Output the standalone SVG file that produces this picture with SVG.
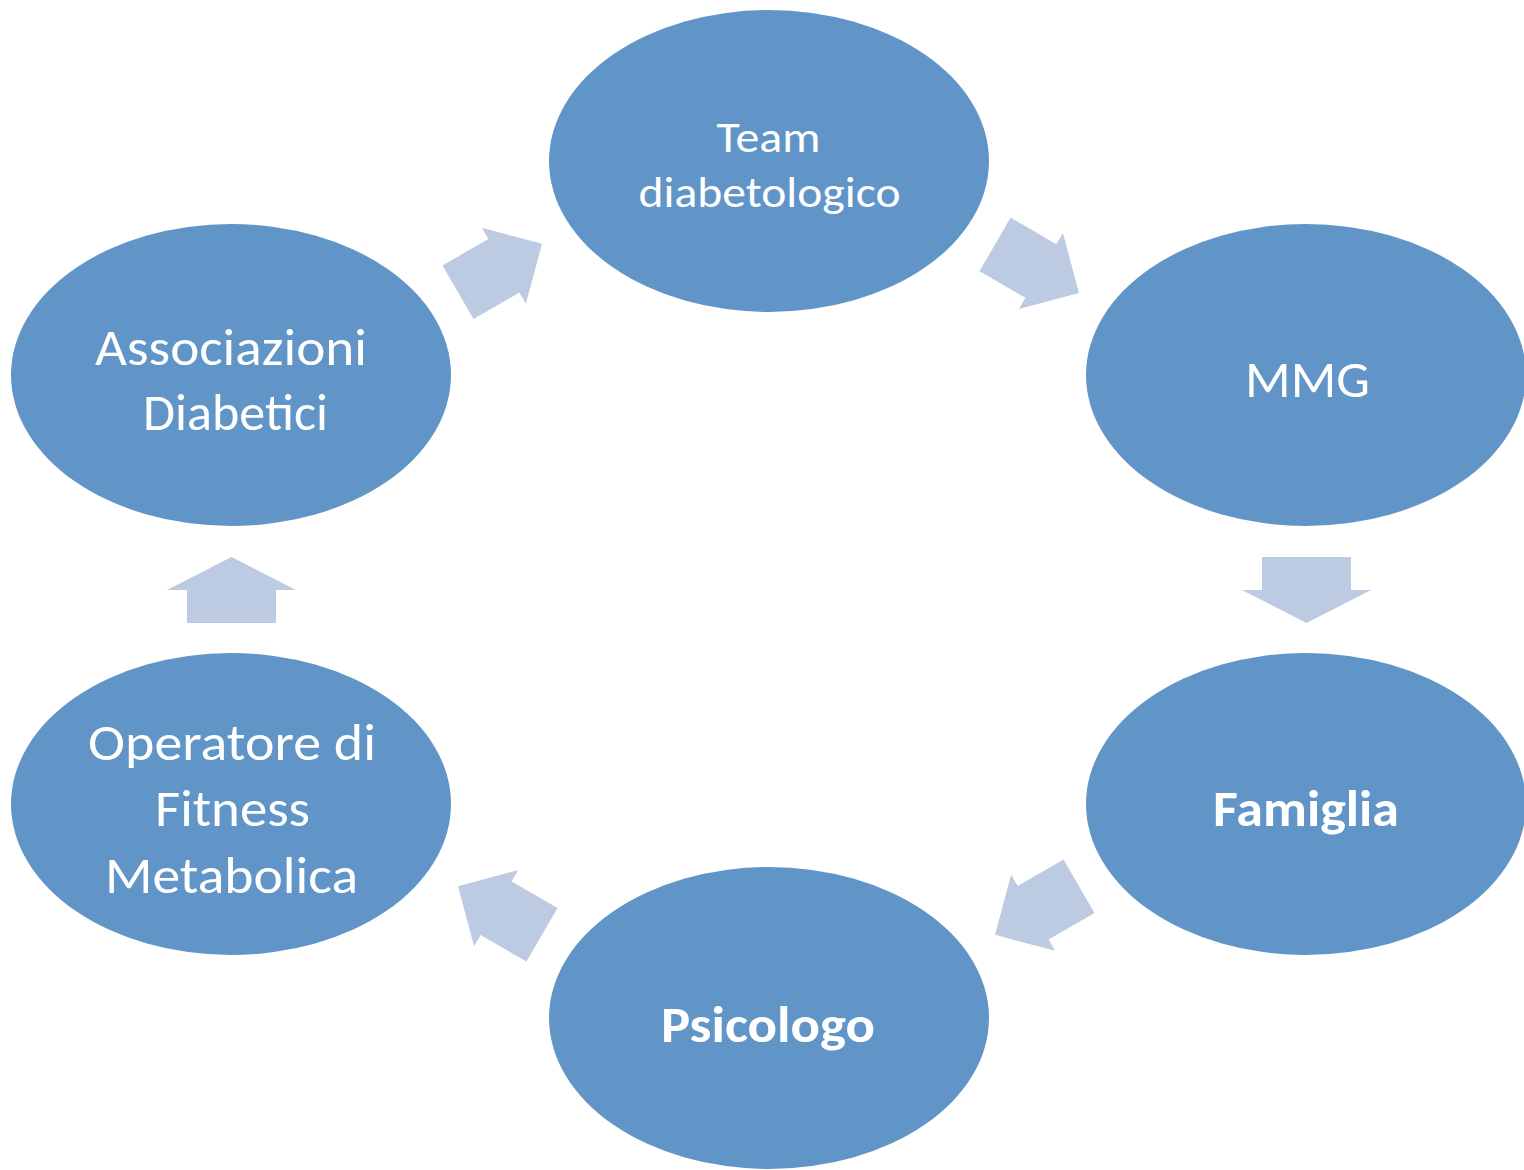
<svg xmlns="http://www.w3.org/2000/svg" width="1524" height="1170" viewBox="0 0 1524 1170">
<style>
.node{fill:#6195C8;}
.arr{fill:#BCCBE1;}
text{fill:#FFFFFF;font-family:"Carlito","Lato","Open Sans",sans-serif;text-anchor:middle;}
.b{font-weight:bold;}
</style>
<defs>
<polygon id="diag" points="-48.5,-31 4.5,-31 4.5,-44 48.5,0 4.5,44 4.5,31 -48.5,31"/>
<polygon id="vert" points="-33,-44.5 0,-44.5 0,-64.5 33,0 0,64.5 0,44.5 -33,44.5"/>
</defs>
<rect width="1524" height="1170" fill="#FFFFFF"/>
<g id="connectors">
<use href="#diag" class="arr" transform="translate(500,268) rotate(-30)"/>
<use href="#diag" class="arr" transform="translate(1037,268.75) rotate(30)"/>
<use href="#vert" class="arr" transform="translate(1306.5,590) rotate(90)"/>
<use href="#diag" class="arr" transform="translate(1037,910.5) rotate(150)"/>
<use href="#diag" class="arr" transform="translate(500,910.5) rotate(210)"/>
<use href="#vert" class="arr" transform="translate(231.5,590) rotate(-90)"/>
</g>
<g id="team">
<ellipse class="node" cx="769" cy="161" rx="220" ry="151"/>
<text x="768.5" y="152" font-size="44" textLength="104" lengthAdjust="spacingAndGlyphs">Team</text>
<text x="769.5" y="207" font-size="44" textLength="262" lengthAdjust="spacingAndGlyphs">diabetologico</text>
</g>
<g id="mmg">
<ellipse class="node" cx="1306" cy="375" rx="220" ry="151"/>
<text x="1307.5" y="397" font-size="52" textLength="125" lengthAdjust="spacingAndGlyphs">MMG</text>
</g>
<g id="famiglia">
<ellipse class="node" cx="1306" cy="804" rx="220" ry="151"/>
<text class="b" x="1306" y="826" font-size="50" textLength="186" lengthAdjust="spacingAndGlyphs">Famiglia</text>
</g>
<g id="psicologo">
<ellipse class="node" cx="769" cy="1018" rx="220" ry="151"/>
<text class="b" x="768" y="1042" font-size="50" textLength="214" lengthAdjust="spacingAndGlyphs">Psicologo</text>
</g>
<g id="operatore">
<ellipse class="node" cx="231" cy="804" rx="220" ry="151"/>
<text x="232" y="760" font-size="52" textLength="288" lengthAdjust="spacingAndGlyphs">Operatore di</text>
<text x="232.5" y="826" font-size="52" textLength="155" lengthAdjust="spacingAndGlyphs">Fitness</text>
<text x="231.5" y="893" font-size="52" textLength="253" lengthAdjust="spacingAndGlyphs">Metabolica</text>
</g>
<g id="associazioni">
<ellipse class="node" cx="231" cy="375" rx="220" ry="151"/>
<text x="231" y="365" font-size="52" textLength="272" lengthAdjust="spacingAndGlyphs">Associazioni</text>
<text x="235.5" y="430" font-size="52" textLength="185" lengthAdjust="spacingAndGlyphs">Diabetici</text>
</g>
</svg>
